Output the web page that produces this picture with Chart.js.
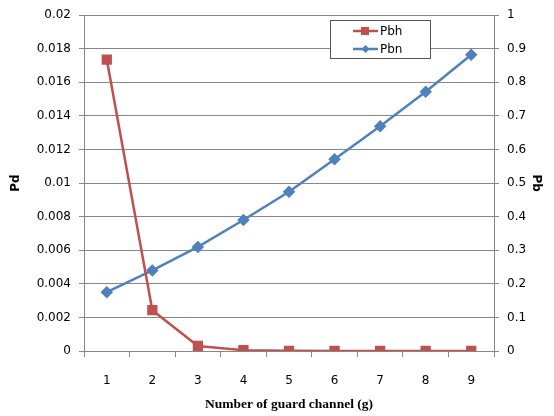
<!DOCTYPE html>
<html>
<head>
<meta charset="utf-8">
<script src="https://cdn.jsdelivr.net/npm/chart.js@4/dist/chart.umd.min.js"></script>
<style>
  html, body { margin: 0; padding: 0; background: #fff; }
  #wrap { width: 554px; height: 416px; }
</style>
</head>
<body>
<div id="wrap"><canvas id="grafico" width="554" height="416"></canvas></div>
<script>
const canales = ['1', '2', '3', '4', '5', '6', '7', '8', '9'];
const pbh = [0.01736, 0.00243, 0.0003, 0.00005, 0.00001, 0, 0, 0, 0];
const pbn = [0.175, 0.24, 0.31, 0.39, 0.474, 0.571, 0.669, 0.772, 0.882];

const gris = '#878787';
const rojo = '#C0504D';
const azul = '#4F81BD';

// leyenda dentro del area, con borde, como en Excel
const leyendaCaja = {
  id: 'leyendaCaja',
  afterDraw(chart) {
    const ctx = chart.ctx;
    const x = 330, y = 20, w = 100, h = 38;
    ctx.save();
    ctx.fillStyle = '#fff';
    ctx.fillRect(x, y, w, h);
    ctx.strokeStyle = '#555';
    ctx.lineWidth = 1;
    ctx.strokeRect(x + 0.5, y + 0.5, w, h);
    ctx.font = '12px "DejaVu Sans"';
    ctx.textBaseline = 'middle';
    chart.data.datasets.forEach((ds, i) => {
      const cy = y + 11 + i * 18;
      ctx.strokeStyle = ds.borderColor;
      ctx.lineWidth = 2.5;
      ctx.beginPath();
      ctx.moveTo(x + 23, cy);
      ctx.lineTo(x + 48, cy);
      ctx.stroke();
      ctx.fillStyle = ds.backgroundColor;
      if (ds.pointStyle === 'rect') {
        ctx.fillRect(x + 31, cy - 4, 8, 8);
      } else {
        ctx.beginPath();
        ctx.moveTo(x + 35.5, cy - 4);
        ctx.lineTo(x + 39.5, cy);
        ctx.lineTo(x + 35.5, cy + 4);
        ctx.lineTo(x + 31.5, cy);
        ctx.closePath();
        ctx.fill();
      }
      ctx.fillStyle = '#000';
      ctx.fillText(ds.label, x + 50, cy + 1);
    });
    ctx.restore();
  }
};

const ctx = document.getElementById('grafico').getContext('2d');
new Chart(ctx, {
  type: 'line',
  data: {
    labels: canales,
    datasets: [
      {
        label: 'Pbh',
        data: pbh,
        yAxisID: 'yPd',
        borderColor: rojo,
        backgroundColor: rojo,
        borderWidth: 2.5,
        pointStyle: 'rect',
        pointRadius: 5.5,
        pointHoverRadius: 5.5,
        tension: 0
      },
      {
        label: 'Pbn',
        data: pbn,
        yAxisID: 'yPb',
        borderColor: azul,
        backgroundColor: azul,
        borderWidth: 2.5,
        pointStyle: 'rectRot',
        pointRadius: 4.5,
        pointHoverRadius: 4.5,
        tension: 0
      }
    ]
  },
  options: {
    responsive: false,
    animation: false,
    layout: { padding: { top: 13, right: 0, left: 0, bottom: 0 } },
    plugins: {
      legend: { display: false },
      tooltip: { enabled: false }
    },
    scales: {
      x: {
        offset: true,
        grid: { offset: true, drawOnChartArea: false, drawTicks: true, tickLength: 6, color: gris },
        border: { color: gris },
        ticks: { color: '#000', font: { family: 'DejaVu Sans', size: 12 }, padding: 17, maxRotation: 0 },
        title: {
          display: true,
          text: 'Number of guard channel (g)',
          color: '#000',
          font: { family: 'Liberation Serif', size: 13.5, weight: 'bold' },
          padding: { top: 6, bottom: 3 }
        },
        afterFit(scale) { scale.height = 65; }
      },
      yPd: {
        position: 'left',
        min: 0,
        max: 0.02,
        ticks: {
          stepSize: 0.002,
          color: '#000',
          font: { family: 'DejaVu Sans', size: 12 },
          padding: 8,
          callback: v => parseFloat(v.toFixed(3)).toString()
        },
        grid: { color: gris, tickLength: 5 },
        border: { color: gris },
        title: {
          display: true,
          text: 'Pd',
          color: '#000',
          font: { family: 'DejaVu Sans', size: 12, weight: 'bold' },
          padding: { top: 9, bottom: 0 }
        },
        afterFit(scale) { scale.width = 84; }
      },
      yPb: {
        position: 'right',
        min: 0,
        max: 1,
        ticks: {
          stepSize: 0.1,
          color: '#000',
          font: { family: 'DejaVu Sans', size: 12 },
          padding: 8,
          callback: v => parseFloat(v.toFixed(1)).toString()
        },
        grid: { drawOnChartArea: false, color: gris, tickLength: 5 },
        border: { color: gris },
        title: {
          display: true,
          text: 'Pb',
          color: '#000',
          font: { family: 'DejaVu Sans', size: 12, weight: 'bold' },
          padding: { top: 11, bottom: 0 }
        },
        afterFit(scale) { scale.width = 60; }
      }
    }
  },
  plugins: [leyendaCaja]
});
</script>
</body>
</html>
